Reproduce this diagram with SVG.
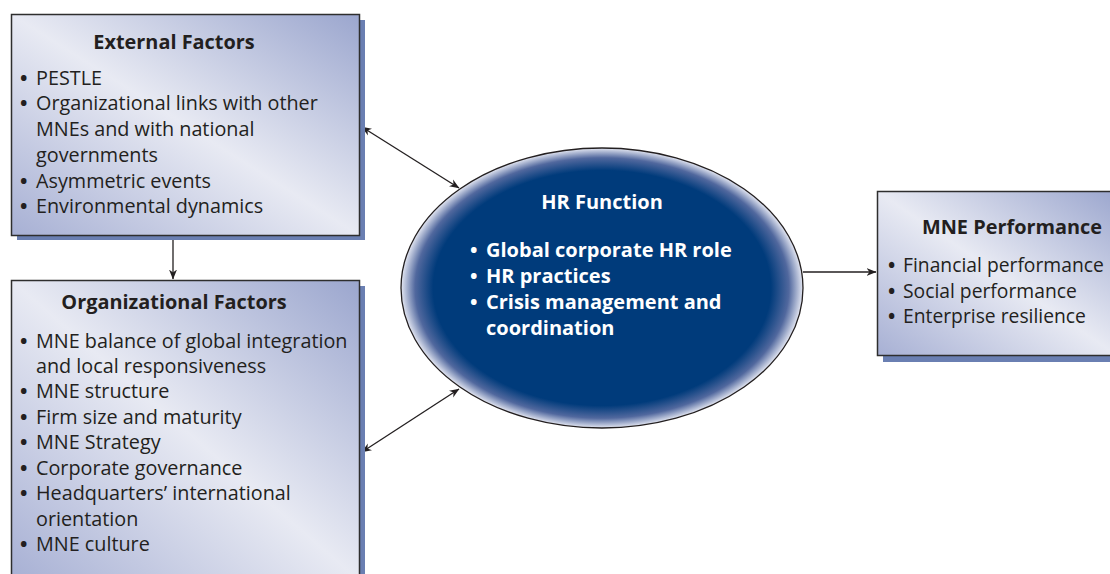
<svg xmlns="http://www.w3.org/2000/svg" width="1110" height="574" viewBox="0 0 1110 574">
<style>
.box{stroke:#2e2e2e;stroke-width:1.5;fill:url(#boxg)}
.shadow{fill:#6a7fb2}
.title{font-family:"Open Sans","Noto Sans",sans-serif;font-weight:bold;font-size:19.9px;fill:#231f20;text-anchor:middle}
.body{font-family:"Open Sans","Noto Sans",sans-serif;font-size:19.8px;fill:#231f20}
.mb{font-size:19.3px}
.wt{font-family:"Open Sans","Noto Sans",sans-serif;font-weight:bold;font-size:20px;fill:#ffffff}
.b{font-weight:bold}
.conn{stroke:#231f20;stroke-width:1.3;fill:none}
</style>
<defs>
<linearGradient id="boxg" x1="0" y1="1" x2="1" y2="0">
<stop offset="0" stop-color="#a7b0d4"/>
<stop offset="0.5" stop-color="#e8eaf3"/>
<stop offset="1" stop-color="#9ba6ce"/>
</linearGradient>
<radialGradient id="ellg" cx="0.5" cy="0.5" r="0.5">
<stop offset="0" stop-color="#003b7b"/>
<stop offset="0.84" stop-color="#003b7b"/>
<stop offset="0.93" stop-color="#51689e"/>
<stop offset="1" stop-color="#e4e7f2"/>
</radialGradient>
<marker id="arr" viewBox="0 0 10 10" refX="9.5" refY="5" markerWidth="10" markerHeight="10" markerUnits="userSpaceOnUse" orient="auto-start-reverse">
<path d="M0,1 L10,5 L0,9 L3,5 Z" fill="#231f20"/>
</marker>
</defs>

<g id="connectors">
<line class="conn" x1="173" y1="236" x2="173" y2="279" marker-end="url(#arr)"/>
<line class="conn" x1="362" y1="127" x2="459" y2="188" marker-start="url(#arr)" marker-end="url(#arr)"/>
<line class="conn" x1="362" y1="452" x2="459" y2="389" marker-start="url(#arr)" marker-end="url(#arr)"/>
<line class="conn" x1="803" y1="272" x2="876" y2="272" marker-end="url(#arr)"/>
</g>

<g id="external-factors">
<rect class="shadow" x="17" y="20" width="348" height="220"/>
<rect class="box" x="11.5" y="14.5" width="348" height="221"/>
<text class="title" x="174" y="49">External Factors</text>
<text class="body"><tspan class="b" x="20" y="85">•</tspan><tspan x="36" y="85">PESTLE</tspan></text>
<text class="body"><tspan class="b" x="20" y="110">•</tspan><tspan x="36" y="110">Organizational links with other</tspan></text>
<text class="body" x="36" y="136">MNEs and with national</text>
<text class="body" x="36" y="162">governments</text>
<text class="body"><tspan class="b" x="20" y="188">•</tspan><tspan x="36" y="188">Asymmetric events</tspan></text>
<text class="body"><tspan class="b" x="20" y="213">•</tspan><tspan x="36" y="213">Environmental dynamics</tspan></text>
</g>

<g id="organizational-factors">
<rect class="shadow" x="17" y="286" width="348" height="300"/>
<rect class="box" x="11.5" y="280.5" width="348" height="300"/>
<text class="title" x="174" y="309">Organizational Factors</text>
<text class="body"><tspan class="b" x="20" y="348">•</tspan><tspan x="36" y="348">MNE balance of global integration</tspan></text>
<text class="body" x="36" y="373">and local responsiveness</text>
<text class="body"><tspan class="b" x="20" y="398">•</tspan><tspan x="36" y="398">MNE structure</tspan></text>
<text class="body"><tspan class="b" x="20" y="424">•</tspan><tspan x="36" y="424">Firm size and maturity</tspan></text>
<text class="body"><tspan class="b" x="20" y="449">•</tspan><tspan x="36" y="449">MNE Strategy</tspan></text>
<text class="body"><tspan class="b" x="20" y="475">•</tspan><tspan x="36" y="475">Corporate governance</tspan></text>
<text class="body"><tspan class="b" x="20" y="500">•</tspan><tspan x="36" y="500">Headquarters’ international</tspan></text>
<text class="body" x="36" y="526">orientation</text>
<text class="body"><tspan class="b" x="20" y="551">•</tspan><tspan x="36" y="551">MNE culture</tspan></text>
</g>

<g id="hr-function">
<ellipse cx="602" cy="288" rx="201" ry="140" fill="url(#ellg)" stroke="#231f20" stroke-width="1.3"/>
<text class="wt" x="602" y="209" text-anchor="middle">HR Function</text>
<text class="wt"><tspan x="470" y="257">•</tspan><tspan x="486" y="257">Global corporate HR role</tspan></text>
<text class="wt"><tspan x="470" y="283">•</tspan><tspan x="486" y="283">HR practices</tspan></text>
<text class="wt"><tspan x="470" y="309">•</tspan><tspan x="486" y="309">Crisis management and</tspan></text>
<text class="wt" x="486" y="335">coordination</text>
</g>

<g id="mne-performance">
<rect class="shadow" x="883" y="197" width="240" height="165"/>
<rect class="box" x="877.5" y="191.5" width="240" height="164"/>
<text class="title" x="1012" y="234">MNE Performance</text>
<text class="body mb"><tspan class="b" x="888" y="272">•</tspan><tspan x="903" y="272">Financial performance</tspan></text>
<text class="body mb"><tspan class="b" x="888" y="298">•</tspan><tspan x="903" y="298">Social performance</tspan></text>
<text class="body mb"><tspan class="b" x="888" y="323">•</tspan><tspan x="903" y="323">Enterprise resilience</tspan></text>
</g>
</svg>
